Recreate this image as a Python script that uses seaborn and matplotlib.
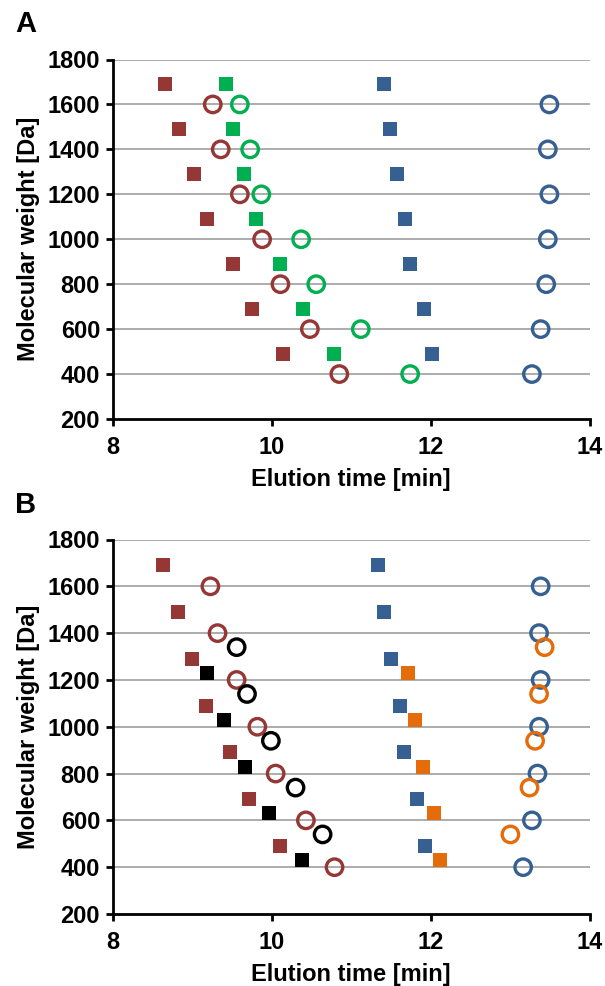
import matplotlib
matplotlib.use("Agg")
import matplotlib.pyplot as plt
import seaborn as sns
import pandas as pd

# ---------------- data ----------------
x_ticks = [8, 10, 12, 14]
y_ticks = [200, 400, 600, 800, 1000, 1200, 1400, 1600, 1800]

mw_sq7 = [1690, 1490, 1290, 1090, 890, 690, 490]
mw_ci7 = [1600, 1400, 1200, 1000, 800, 600, 400]
mw_sq5 = [1230, 1030, 830, 630, 430]
mw_ci5 = [1340, 1140, 940, 740, 540]

# Panel A
a_brown_sq = [8.66, 8.84, 9.02, 9.19, 9.51, 9.75, 10.14]
a_green_sq = [9.43, 9.51, 9.65, 9.80, 10.11, 10.39, 10.78]
a_blue_sq = [11.41, 11.49, 11.57, 11.68, 11.74, 11.91, 12.01]
a_brown_ci = [9.26, 9.36, 9.60, 9.88, 10.11, 10.48, 10.85]
a_green_ci = [9.60, 9.73, 9.87, 10.37, 10.56, 11.12, 11.74]
a_blue_ci = [13.49, 13.47, 13.49, 13.47, 13.45, 13.38, 13.27]

# Panel B
b_brown_sq = [8.63, 8.82, 9.00, 9.17, 9.48, 9.71, 10.10]
b_blue_sq = [11.34, 11.41, 11.50, 11.61, 11.66, 11.83, 11.93]
b_black_sq = [9.19, 9.40, 9.67, 9.97, 10.38]
b_orange_sq = [11.71, 11.80, 11.90, 12.04, 12.11]
b_brown_ci = [9.23, 9.32, 9.56, 9.82, 10.05, 10.43, 10.79]
b_blue_ci = [13.38, 13.36, 13.38, 13.36, 13.34, 13.27, 13.16]
b_black_ci = [9.56, 9.69, 9.99, 10.30, 10.64]
b_orange_ci = [13.43, 13.36, 13.31, 13.24, 13.00]

BROWN = "#953735"
GREEN = "#00B050"
BLUE = "#376092"
ORANGE = "#E46C0A"
BLACK = "#000000"

panel_a = [
    (a_brown_sq, mw_sq7, BROWN, "s"),
    (a_green_sq, mw_sq7, GREEN, "s"),
    (a_blue_sq, mw_sq7, BLUE, "s"),
    (a_brown_ci, mw_ci7, BROWN, "o"),
    (a_green_ci, mw_ci7, GREEN, "o"),
    (a_blue_ci, mw_ci7, BLUE, "o"),
]
panel_b = [
    (b_brown_sq, mw_sq7, BROWN, "s"),
    (b_blue_sq, mw_sq7, BLUE, "s"),
    (b_black_sq, mw_sq5, BLACK, "s"),
    (b_orange_sq, mw_sq5, ORANGE, "s"),
    (b_brown_ci, mw_ci7, BROWN, "o"),
    (b_blue_ci, mw_ci7, BLUE, "o"),
    (b_black_ci, mw_ci5, BLACK, "o"),
    (b_orange_ci, mw_ci5, ORANGE, "o"),
]

# ---------------- figure ----------------
sns.set_theme(style="white")
plt.rcParams["font.family"] = ["Liberation Sans", "DejaVu Sans"]
plt.rcParams["font.weight"] = "bold"
plt.rcParams["text.color"] = "black"
plt.rcParams["axes.labelcolor"] = "black"
plt.rcParams["xtick.color"] = "black"
plt.rcParams["ytick.color"] = "black"

W, H = 605, 986
fig = plt.figure(figsize=(W / 100, H / 100), dpi=100)

def axes_px(left, top, right, bottom):
    return fig.add_axes([left / W, 1 - bottom / H, (right - left) / W, (bottom - top) / H])

axA = axes_px(112.5, 59.5, 590, 419)
axB = axes_px(112.5, 539.5, 590, 914)

TICK_FS = 17
LABEL_FS = 17

def draw(ax, series):
    for t, mw, col, mk in series:
        df = pd.DataFrame({"t": t, "mw": mw})
        if mk == "s":
            sns.scatterplot(data=df, x="t", y="mw", ax=ax, marker="s", s=105,
                            color=col, edgecolor=col, linewidth=0, zorder=3)
        else:
            sns.scatterplot(data=df, x="t", y="mw", ax=ax, marker="o", s=140,
                            facecolor="none", edgecolor=col, linewidth=2.4, zorder=3)
    ax.set_xlim(8, 14)
    ax.set_ylim(200, 1800)
    ax.set_xticks(x_ticks)
    ax.set_yticks(y_ticks)
    ax.set_xticklabels([str(v) for v in x_ticks], fontsize=TICK_FS, fontweight="bold", color="black")
    ax.set_yticklabels([str(v) for v in y_ticks], fontsize=TICK_FS, fontweight="bold", color="black")
    for v in y_ticks[1:]:
        ax.axhline(v, color="#A6A6A6", lw=1.3, zorder=1)
    for s in ["top", "right"]:
        ax.spines[s].set_visible(False)
    for s in ["left", "bottom"]:
        ax.spines[s].set_color("black")
        ax.spines[s].set_linewidth(2.0)
        ax.spines[s].set_zorder(4)
    ax.tick_params(axis="both", direction="out", length=5, width=2.0, color="black",
                   left=True, bottom=True)
    ax.tick_params(axis="y", pad=4)
    ax.tick_params(axis="x", pad=7)
    ax.set_xlabel("Elution time [min]", fontsize=LABEL_FS, fontweight="bold", labelpad=7, color="black")
    ax.set_ylabel("Molecular weight [Da]", fontsize=LABEL_FS, fontweight="bold", labelpad=5, color="black")
    ax.grid(False)
    ax.set_facecolor("white")

draw(axA, panel_a)
draw(axB, panel_b)

fig.text(15 / W, 1 - 24 / H, "A", fontsize=21, fontweight="bold", va="center", ha="left", color="black")
fig.text(15 / W, 1 - 505 / H, "B", fontsize=21, fontweight="bold", va="center", ha="left", color="black")

fig.savefig("out.png", dpi=100, facecolor="white")
